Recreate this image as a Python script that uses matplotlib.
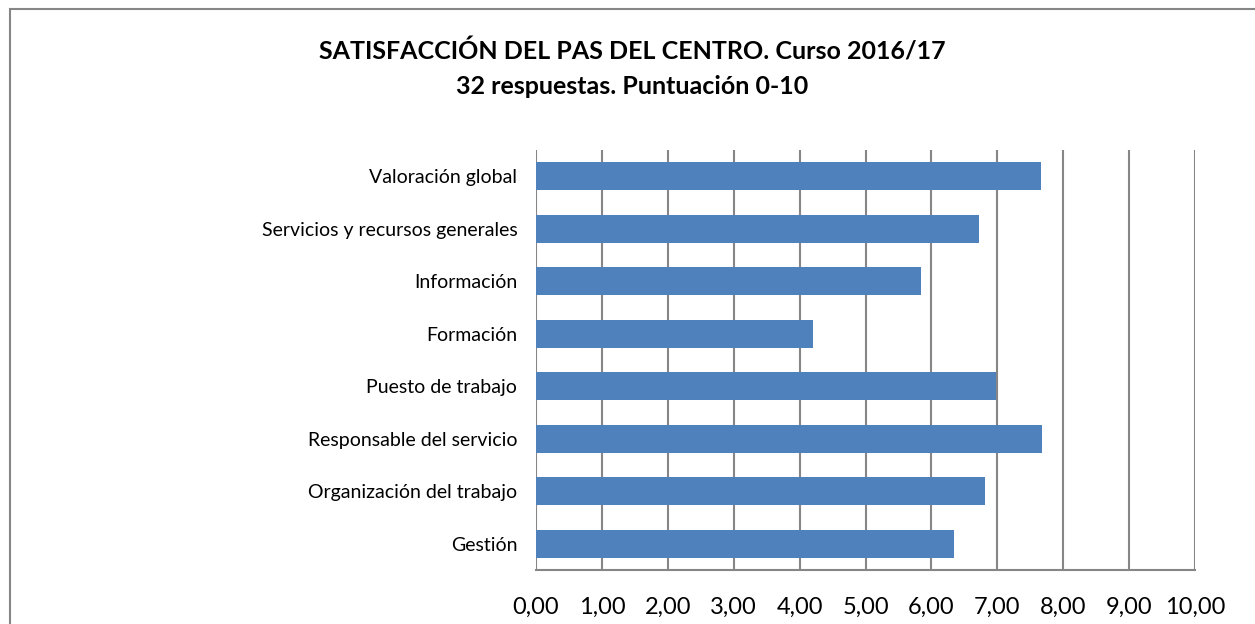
import matplotlib
matplotlib.use("Agg")
import matplotlib.pyplot as plt
from matplotlib.patches import Rectangle

categories = ["Valoración global", "Servicios y recursos generales", "Información",
              "Formación", "Puesto de trabajo", "Responsable del servicio",
              "Organización del trabajo", "Gestión"]
values = [7.66, 6.72, 5.84, 4.20, 6.98, 7.68, 6.81, 6.34]
xticks = [0, 1, 2, 3, 4, 5, 6, 7, 8, 9, 10]
xticklabels = ["0,00", "1,00", "2,00", "3,00", "4,00", "5,00", "6,00", "7,00", "8,00", "9,00", "10,00"]
title = "SATISFACCIÓN DEL PAS DEL CENTRO. Curso 2016/17\n32 respuestas. Puntuación 0-10"

plt.rcParams['font.family'] = ['Lato', 'DejaVu Sans']

W, H = 1255, 624
fig = plt.figure(figsize=(W / 100, H / 100), dpi=100)
fig.patch.set_facecolor("white")

# chart border
fig.patches.append(Rectangle((10 / W, -0.1), 1.2, (H - 9) / H + 0.1, transform=fig.transFigure,
                             fill=False, edgecolor="#868686", linewidth=1.5))

ax = fig.add_axes([536 / W, (H - 570) / H, (1195 - 536) / W, (570 - 150) / H])
ypos = list(range(len(categories)))
ax.barh(ypos, values, height=0.53, color="#4F81BD", zorder=3)
ax.set_ylim(len(categories) - 0.5, -0.5)
ax.set_xlim(0, 10)
ax.set_yticks(ypos)
ax.set_yticklabels(categories, fontsize=14)
ax.set_xticks(xticks)
ax.set_xticklabels(xticklabels, fontsize=17)
ax.tick_params(axis="y", length=0, pad=13.5)
ax.tick_params(axis="x", length=0, pad=19)
ax.grid(axis="x", color="#868686", linewidth=1.5, zorder=0)
for s in ["top", "right", "left"]:
    ax.spines[s].set_visible(False)
ax.spines["bottom"].set_color("#868686")
ax.spines["bottom"].set_linewidth(1.5)

fig.text(632 / W, 1 - 69 / H, title, ha="center", va="center", fontsize=18,
         fontweight="bold", linespacing=1.6)

fig.savefig("out.png", dpi=100, facecolor="white")
